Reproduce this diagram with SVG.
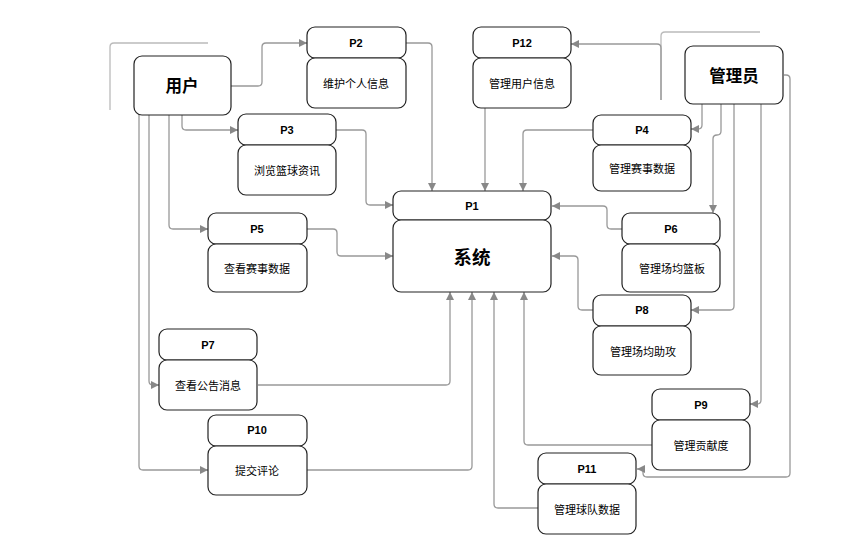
<svg xmlns="http://www.w3.org/2000/svg" width="856" height="552" viewBox="0 0 856 552">
<style>
.box{fill:#fff;stroke:#222;stroke-width:1.2}
.e{fill:none;stroke:#999;stroke-width:1.3}
.d{fill:none;stroke:#bbb;stroke-width:1.3}
.h{font-family:"Liberation Sans","Noto Sans CJK SC",sans-serif;font-size:11px;font-weight:bold;fill:#000;text-anchor:middle;dominant-baseline:central}
.t{font-family:"Noto Sans CJK SC",sans-serif;font-size:11px;fill:#000;text-anchor:middle;dominant-baseline:central}
.big{font-family:"Noto Sans CJK SC",sans-serif;font-size:16.5px;font-weight:bold;fill:#000;text-anchor:middle;dominant-baseline:central}
</style>
<defs>
<marker id="a" viewBox="0 0 10 10" refX="10" refY="5" markerWidth="8" markerHeight="8" markerUnits="userSpaceOnUse" orient="auto">
<path d="M0,0 L10,5 L0,10 z" fill="#888"/>
</marker>
</defs>
<rect width="856" height="552" fill="#fff"/>
<g id="connectors">
<path class="d" d="M110,110 V47 Q110,43 114,43 H208"/>
<path class="d" d="M661,100 V36 Q661,32 665,32 H760"/>
<path class="e" marker-end="url(#a)" d="M231,86 H258 Q262,86 262,82 V47 Q262,43 266,43 H307"/>
<path class="e" marker-end="url(#a)" d="M182,115 V126 Q182,130 186,130 H238"/>
<path class="e" marker-end="url(#a)" d="M169,115 V225 Q169,229 173,229 H208"/>
<path class="e" marker-end="url(#a)" d="M149,115 V381 Q149,385 153,385 H159"/>
<path class="e" marker-end="url(#a)" d="M139,115 V466 Q139,470 143,470 H208"/>
<path class="e" marker-end="url(#a)" d="M406,43 H428 Q432,43 432,47 V191"/>
<path class="e" marker-end="url(#a)" d="M336,130 H362 Q366,130 366,134 V201 Q366,205 370,205 H393"/>
<path class="e" marker-end="url(#a)" d="M307,229 H333 Q337,229 337,233 V252 Q337,256 341,256 H393"/>
<path class="e" marker-end="url(#a)" d="M485,108 V191"/>
<path class="e" marker-end="url(#a)" d="M661,100 V48 Q661,44 657,44 H571"/>
<path class="e" marker-end="url(#a)" d="M593,130 H527 Q523,130 523,134 V191"/>
<path class="e" marker-end="url(#a)" d="M702,104 V125 Q702,129 698,129 H691"/>
<path class="e" marker-end="url(#a)" d="M721,104 V131 Q721,135 717,135 Q713,135 713,139 V213"/>
<path class="e" marker-end="url(#a)" d="M734,104 V306 Q734,310 730,310 H691"/>
<path class="e" marker-end="url(#a)" d="M761,104 V400 Q761,404 757,404 H750"/>
<path class="e" marker-end="url(#a)" d="M784,75 H786 Q790,75 790,79 V473 Q790,477 786,477 H647 Q643,477 643,473 V469 H637"/>
<path class="e" marker-end="url(#a)" d="M622,229 H611 Q607,229 607,225 V210 Q607,206 603,206 H552"/>
<path class="e" marker-end="url(#a)" d="M593,310 H582 Q578,310 578,306 V260 Q578,256 574,256 H552"/>
<path class="e" marker-end="url(#a)" d="M258,385 H446 Q450,385 450,381 V292"/>
<path class="e" marker-end="url(#a)" d="M307,470 H468 Q472,470 472,466 V292"/>
<path class="e" marker-end="url(#a)" d="M538,508 H498 Q494,508 494,504 V292"/>
<path class="e" marker-end="url(#a)" d="M652,445 H528 Q524,445 524,441 V292"/>
</g>
<g id="user">
<rect class="box" x="134" y="56" width="97" height="59" rx="8"/>
<text class="big" x="182" y="85">用户</text>
</g>
<g id="admin">
<rect class="box" x="685" y="46" width="98" height="58" rx="8"/>
<text class="big" x="734" y="75">管理员</text>
</g>
<g id="P1">
<rect class="box" x="393" y="191" width="158" height="29" rx="8"/>
<rect class="box" x="393" y="220" width="158" height="72" rx="8"/>
<text class="h" x="472" y="206">P1</text>
<text class="big" x="472" y="256" style="font-size:18.5px">系统</text>
</g>
<g id="P2">
<rect class="box" x="307" y="27" width="99" height="31" rx="8"/>
<rect class="box" x="307" y="58" width="99" height="50" rx="8"/>
<text class="h" x="356" y="43">P2</text>
<text class="t" x="356" y="83">维护个人信息</text>
</g>
<g id="P3">
<rect class="box" x="238" y="114" width="98" height="31" rx="8"/>
<rect class="box" x="238" y="145" width="98" height="50" rx="8"/>
<text class="h" x="287" y="130">P3</text>
<text class="t" x="287" y="170">浏览篮球资讯</text>
</g>
<g id="P12">
<rect class="box" x="473" y="27" width="98" height="31" rx="8"/>
<rect class="box" x="473" y="58" width="98" height="50" rx="8"/>
<text class="h" x="522" y="43">P12</text>
<text class="t" x="522" y="83">管理用户信息</text>
</g>
<g id="P4">
<rect class="box" x="593" y="115" width="98" height="30" rx="8"/>
<rect class="box" x="593" y="145" width="98" height="46" rx="8"/>
<text class="h" x="642" y="130">P4</text>
<text class="t" x="642" y="168">管理赛事数据</text>
</g>
<g id="P5">
<rect class="box" x="208" y="213" width="99" height="31" rx="8"/>
<rect class="box" x="208" y="244" width="99" height="48" rx="8"/>
<text class="h" x="257" y="229">P5</text>
<text class="t" x="257" y="268">查看赛事数据</text>
</g>
<g id="P6">
<rect class="box" x="622" y="213" width="98" height="31" rx="8"/>
<rect class="box" x="622" y="244" width="98" height="48" rx="8"/>
<text class="h" x="671" y="229">P6</text>
<text class="t" x="672" y="268">管理场均篮板</text>
</g>
<g id="P8">
<rect class="box" x="593" y="295" width="98" height="31" rx="8"/>
<rect class="box" x="593" y="326" width="98" height="49" rx="8"/>
<text class="h" x="642" y="310">P8</text>
<text class="t" x="643" y="351">管理场均助攻</text>
</g>
<g id="P7">
<rect class="box" x="159" y="329" width="98" height="31" rx="8"/>
<rect class="box" x="159" y="360" width="98" height="50" rx="8"/>
<text class="h" x="208" y="345">P7</text>
<text class="t" x="208" y="385">查看公告消息</text>
</g>
<g id="P9">
<rect class="box" x="652" y="389" width="98" height="31" rx="8"/>
<rect class="box" x="652" y="420" width="98" height="50" rx="8"/>
<text class="h" x="701" y="405">P9</text>
<text class="t" x="701" y="445">管理贡献度</text>
</g>
<g id="P10">
<rect class="box" x="208" y="415" width="99" height="31" rx="8"/>
<rect class="box" x="208" y="446" width="99" height="49" rx="8"/>
<text class="h" x="257" y="430">P10</text>
<text class="t" x="257" y="470">提交评论</text>
</g>
<g id="P11">
<rect class="box" x="538" y="453" width="98" height="31" rx="8"/>
<rect class="box" x="538" y="484" width="98" height="50" rx="8"/>
<text class="h" x="587" y="469">P11</text>
<text class="t" x="587" y="509">管理球队数据</text>
</g>
</svg>
